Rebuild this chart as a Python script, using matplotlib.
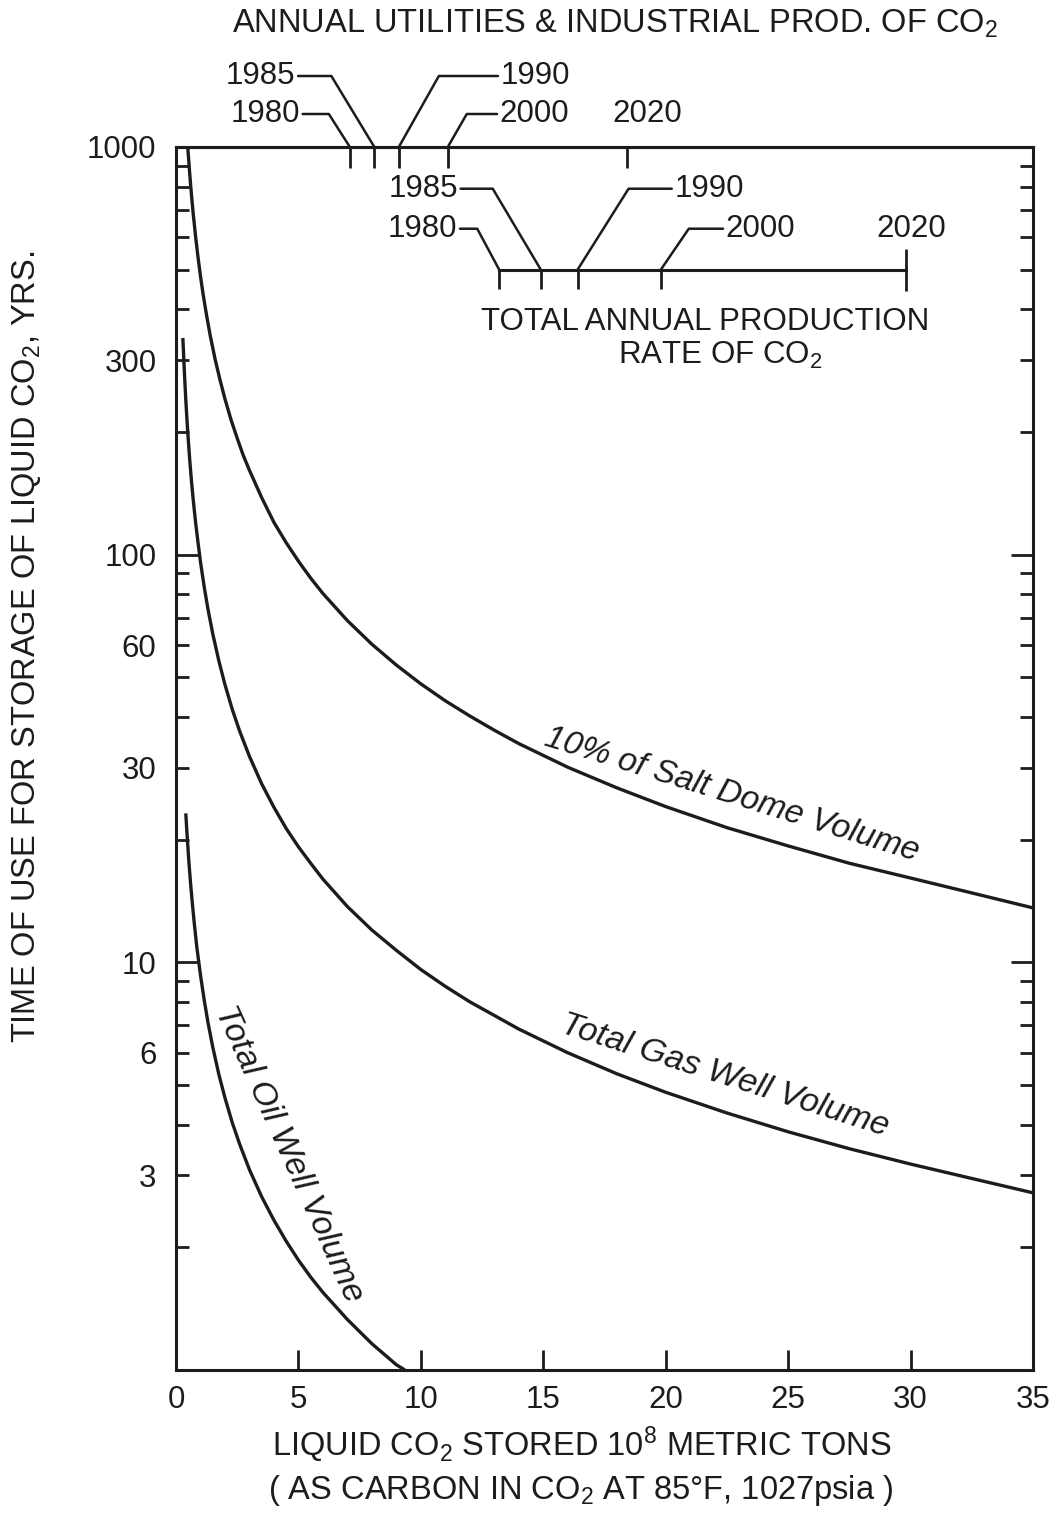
import matplotlib
matplotlib.use("Agg")
import matplotlib.pyplot as plt
import matplotlib.ticker as mticker
from matplotlib.markers import TICKDOWN

plt.rcParams['font.family'] = ['Liberation Sans', 'DejaVu Sans']
plt.rcParams['mathtext.fontset'] = 'custom'
plt.rcParams['mathtext.rm'] = 'Liberation Sans'
plt.rcParams['mathtext.it'] = 'Liberation Sans:italic'
plt.rcParams['mathtext.bf'] = 'Liberation Sans:bold'

# ---------------- data ----------------
salt_x = [0.48, 0.52, 0.56, 0.6, 0.65, 0.7, 0.8, 0.9, 1.0, 1.1, 1.25, 1.4, 1.6, 1.8, 2.0,
          2.25, 2.5, 2.75, 3.0, 3.5, 4.0, 4.5, 5.0, 5.5, 6, 7, 8, 9, 10, 11, 12, 13, 14,
          16, 18, 20, 22.5, 25, 27.5, 30, 32.5, 35]
salt_t = [1000, 927, 861, 803, 742, 689, 603, 536, 482, 438, 386, 344, 301, 268, 241,
          214, 193, 175, 161, 138, 120, 107, 96.4, 87.6, 80.3, 68.9, 60.3, 53.6, 48.2, 43.8,
          40.2, 37.1, 34.4, 30.1, 26.8, 24.1, 21.4, 19.3, 17.5, 16.1, 14.8, 13.6]

gas_x = [0.28, 0.3, 0.33, 0.36, 0.4, 0.45, 0.5, 0.56, 0.63, 0.7, 0.8, 0.9, 1.0, 1.15, 1.3,
         1.5, 1.75, 2.0, 2.3, 2.6, 3.0, 3.5, 4.0, 4.5, 5, 5.5, 6, 7, 8, 9, 10, 11, 12, 14,
         16, 18, 20, 22.5, 25, 27.5, 30, 32.5, 35]
gas_t = [340, 320, 291, 267, 240, 213, 192, 171, 152, 137, 120, 107, 96, 83.5, 73.8,
         64, 54.9, 48, 41.7, 36.9, 32, 27.4, 24, 21.3, 19.2, 17.5, 16, 13.7, 12, 10.7, 9.6,
         8.73, 8.0, 6.86, 6.0, 5.33, 4.8, 4.27, 3.84, 3.49, 3.2, 2.95, 2.72]

oil_x = [0.4, 0.44, 0.48, 0.53, 0.6, 0.67, 0.75, 0.85, 1.0, 1.15, 1.3, 1.5, 1.75, 2.0, 2.3,
         2.6, 3.0, 3.5, 4.0, 4.5, 5.0, 5.5, 6, 7, 8, 9, 9.35]
oil_t = [23.2, 21.1, 19.4, 17.5, 15.5, 13.9, 12.4, 10.9, 9.3, 8.1, 7.15, 6.2, 5.31, 4.65, 4.04,
         3.58, 3.1, 2.66, 2.33, 2.07, 1.86, 1.69, 1.55, 1.33, 1.16, 1.03, 1.0]

x_ticks = [0, 5, 10, 15, 20, 25, 30, 35]
y_major = [1, 10, 100, 1000]
y_labeled = [3, 6, 10, 30, 60, 100, 300, 1000]

years = ['1980', '1985', '1990', '2000', '2020']
top_year_x = [7.1, 8.1, 9.1, 11.1, 18.4]          # annual utilities & industrial prod.
inner_year_x = [13.2, 14.9, 16.4, 19.8, 29.8]     # total annual production rate
inner_level = 500

labels = {
    'salt': '10% of Salt Dome Volume',
    'gas': 'Total Gas Well Volume',
    'oil': 'Total Oil Well Volume',
}

# ---------------- figure ----------------
INK = '#1c1c1c'
PX = 0.72  # points per pixel at dpi 100
fig = plt.figure(figsize=(10.54, 15.16), dpi=100)
ax = fig.add_axes([176 / 1054, 146 / 1516, 857 / 1054, 1223 / 1516])

ax.plot(salt_x, salt_t, color=INK, lw=2.4, solid_capstyle='butt')
ax.plot(gas_x, gas_t, color=INK, lw=2.4, solid_capstyle='butt')
ax.plot(oil_x, oil_t, color=INK, lw=2.4, solid_capstyle='butt')

ax.set_yscale('log')
ax.set_xlim(0, 35)
ax.set_ylim(1, 1000)

for s in ax.spines.values():
    s.set_linewidth(2.2)
    s.set_color(INK)

# y ticks
ax.yaxis.set_major_locator(mticker.FixedLocator(y_major))
ax.yaxis.set_minor_locator(mticker.LogLocator(base=10, subs=[2, 3, 4, 5, 6, 7, 8, 9]))
fmt = mticker.FuncFormatter(lambda v, p: ('%d' % round(v)) if any(abs(v - l) < 1e-6 for l in y_labeled) else '')
ax.yaxis.set_major_formatter(fmt)
ax.yaxis.set_minor_formatter(fmt)
ax.tick_params(axis='y', which='major', direction='in', length=22 * PX, width=2.0,
               left=True, right=True, pad=14, labelsize=22.5, colors=INK)
ax.tick_params(axis='y', which='minor', direction='in', length=13 * PX, width=2.0,
               left=True, right=True, pad=14, labelsize=22.5, colors=INK)

# x ticks
ax.set_xticks(x_ticks)
ax.set_xticklabels([str(v) for v in x_ticks])
ax.tick_params(axis='x', which='major', direction='in', length=20 * PX, width=2.0,
               bottom=True, top=False, pad=11, labelsize=22.5, colors=INK)
ax.xaxis.set_minor_locator(mticker.NullLocator())

# top year ticks (annual utilities & industrial production)
sec = ax.secondary_xaxis('top')
sec.set_xticks(top_year_x)
sec.set_xticklabels([''] * len(top_year_x))
sec.tick_params(axis='x', direction='in', length=21 * PX, width=2.0, colors=INK)
sec.spines['top'].set_linewidth(2.2)
sec.spines['top'].set_color(INK)

# inner scale (total annual production rate)
ax.plot([inner_year_x[0], inner_year_x[-1]], [inner_level, inner_level], color=INK, lw=2.2)
ax.plot(inner_year_x[:-1], [inner_level] * (len(inner_year_x) - 1), ls='none',
        marker=TICKDOWN, ms=19 * PX, mew=2.0, color=INK)
ax.plot(inner_year_x[-1:], [inner_level], ls='none', marker='|', ms=43 * PX, mew=2.0, color=INK)


def year_label(text, x, y, dx, dy, ha, angle_b=None, size=22.5):
    kw = {}
    if angle_b is not None:
        kw['arrowprops'] = dict(arrowstyle='-', color=INK, lw=1.8, shrinkA=0, shrinkB=0,
                                connectionstyle='angle,angleA=0,angleB=%g,rad=0' % angle_b)
    ax.annotate(text, xy=(x, y), xycoords='data', xytext=(dx * PX, dy * PX),
                textcoords='offset points', ha=ha, va='center', fontsize=size,
                color=INK, annotation_clip=False, **kw)


# top labels: (dx px, dy px, ha, angleB)
top_layout = [(-50, 33, 'right', 122.5), (-79, 71, 'right', 121.2), (102, 71, 'left', 60.6),
              (52, 33, 'left', 60.1), (-14, 33, 'left', None)]
for yr, xv, (dx, dy, ha, ab) in zip(years, top_year_x, top_layout):
    year_label(yr, xv, 1000, dx, dy, ha, ab)

inner_layout = [(-42, 41, 'right', 118.2), (-83, 81, 'right', 120.7), (97, 81, 'left', 57.8),
                (65, 41, 'left', 55.7), (6, 41, 'center', None)]
for yr, xv, (dx, dy, ha, ab) in zip(years, inner_year_x, inner_layout):
    year_label(yr, xv, inner_level, dx, dy, ha, ab)

ax.text((705 - 176) / 857, (1370 - 322) / 1223, 'TOTAL ANNUAL PRODUCTION', transform=ax.transAxes,
        ha='center', va='center', fontsize=22.5, color=INK)
ax.text((720 - 176) / 857, (1370 - 355) / 1223, 'RATE OF CO$_2$', transform=ax.transAxes,
        ha='center', va='center', fontsize=22.5, color=INK)

# curve labels
ax.text(22.7, 25.8, labels['salt'], rotation=-17.3, rotation_mode='anchor', ha='center',
        va='center', fontsize=24, style='italic', color=INK)
ax.text(22.4, 5.25, labels['gas'], rotation=-17.7, rotation_mode='anchor', ha='center',
        va='center', fontsize=24.5, style='italic', color=INK)
ax.text(4.6, 3.38, labels['oil'], rotation=-65.8, rotation_mode='anchor', ha='center',
        va='center', fontsize=24.5, style='italic', color=INK)

# titles
fig.text(615 / 1054, 1 - 24 / 1516, 'ANNUAL UTILITIES & INDUSTRIAL PROD. OF CO$_2$',
         ha='center', va='center', fontsize=23.5, color=INK)
fig.text(27 / 1054, 1 - 647 / 1516, 'TIME OF USE FOR STORAGE OF LIQUID CO$_2$, YRS.',
         rotation=90, ha='center', va='center', fontsize=23.5, color=INK)
fig.text(582 / 1054, 1 - 1445 / 1516, 'LIQUID CO$_2$ STORED 10$^8$ METRIC TONS',
         ha='center', va='center', fontsize=23.5, color=INK)
fig.text(581 / 1054, 1 - 1490 / 1516, '( AS CARBON IN CO$_2$ AT 85°F, 1027psia )',
         ha='center', va='center', fontsize=23.5, color=INK)

fig.savefig('out.png', dpi=100, facecolor='white')
